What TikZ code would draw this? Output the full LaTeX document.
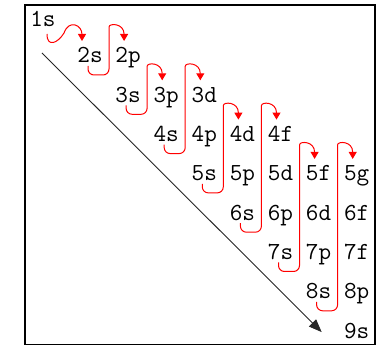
\documentclass[tikz,border=0pt]{standalone}
\usetikzlibrary{arrows.meta,calc}
\begin{document}
\begin{tikzpicture}[x=1pt,y=-1pt,
  orb/.style={anchor=base,inner sep=0pt,font=\ttfamily\fontsize{24.5}{24}\selectfont},
  redpath/.style={draw=red,line width=1pt,-{Triangle[length=7pt,width=8pt]}},
  frame/.style={draw=black,line width=1.6pt},
  diag/.style={draw=black!85,line width=0.9pt,-{Triangle[length=13pt,width=10pt]}}]
\useasboundingbox (0,0) rectangle (386,347);
\draw[frame] (25,5) rectangle (375,344.5);
% orbital labels
\node[orb] (o1s) at (43,27) {1s};
\foreach \nm/\c/\r in {2s/1/1,2p/2/1,
  3s/2/2,3p/3/2,3d/4/2,
  4s/3/3,4p/4/3,4d/5/3,4f/6/3,
  5s/4/4,5p/5/4,5d/6/4,5f/7/4,5g/8/4,
  6s/5/5,6p/6/5,6d/7/5,6f/8/5,
  7s/6/6,7p/7/6,7f/8/6,
  8s/7/7,8p/8/7,
  9s/8/8}
  \node[orb] (o\nm) at ({51.9+38.1*\c},{23.7+39.3*\r}) {\nm};
% diagonal arrow
\coordinate (dstart) at ($(o1s.base)+(-1,26)$);
\coordinate (dend) at ($(o9s.base)+(-35,-6)$);
\draw[diag] (dstart) -- (dend);
% 1s -> 2s
\draw[redpath] ($(o1s.base)+(4,7)$) .. controls +(0,14) and +(-6,10) .. ($(o1s.base)+(21,6)$)
  .. controls +(5,-14) and +(0,-16) .. ($(o2s.base)+(-8,-22)$);
% hooks
\foreach \s/\t in {2s/2p,3s/3p,4s/3d,5s/4d,6s/4f,7s/5f,8s/5g}{
  \coordinate (ha) at ($(o\s.base)+(-2,3)$);
  \coordinate (hb) at ($(o\s.base)+(-2,12)$);
  \coordinate (hc) at ($(o\s.base)+(19,12)$);
  \coordinate (ht) at ($(o\t.base)+(-4,-22)$);
  \coordinate (hd) at ($(o\s.base)+(19,0)$);
  \draw[redpath,rounded corners=6pt] (ha) -- (hb) -- (hc) -- (hd |- ht) -- ++(0,-8)
    .. controls +(0,-10) and +(0,-18) .. (ht);
}
\end{tikzpicture}
\end{document}
